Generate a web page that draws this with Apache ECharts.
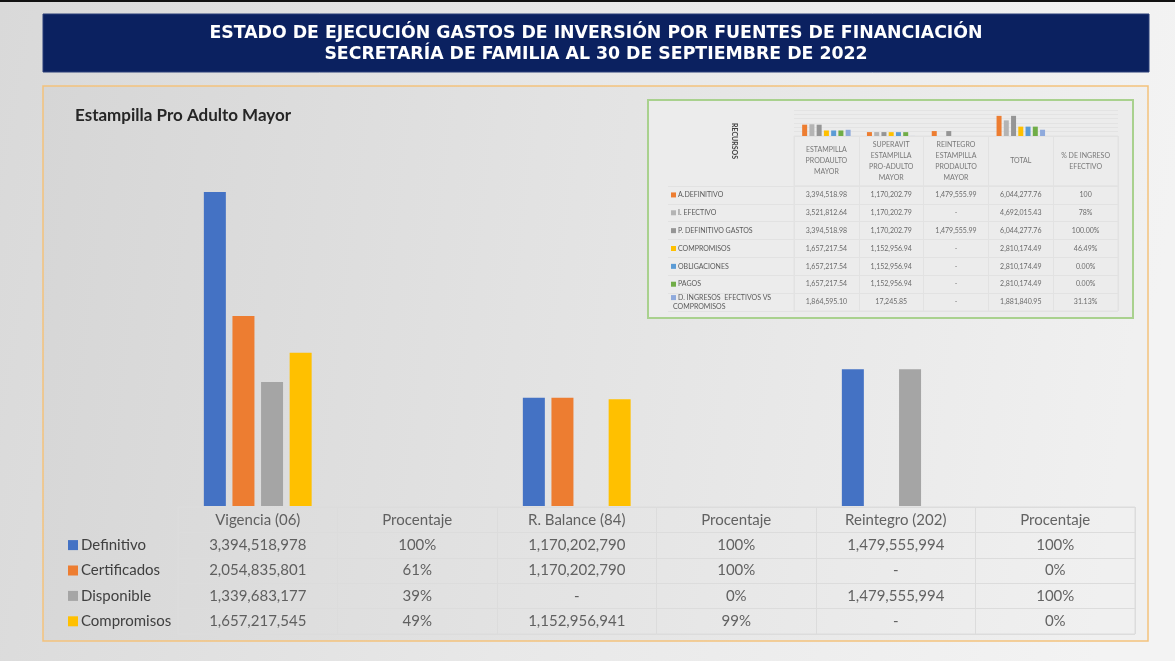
<!DOCTYPE html>
<html>
<head>
<meta charset="utf-8">
<script src="https://cdn.jsdelivr.net/npm/echarts@6/dist/echarts.min.js"></script>
<style>
html,body{margin:0;padding:0;background:#e6e6e6;}
#chart{width:1175px;height:661px;}
</style>
</head>
<body>
<div id="chart"></div>
<script>
// ---------- Main chart data ----------
const categories = ['Vigencia (06)', 'Procentaje', 'R. Balance (84)', 'Procentaje', 'Reintegro (202)', 'Procentaje'];
const seriesNames = ['Definitivo', 'Certificados', 'Disponible', 'Compromisos'];
const definitivo  = [3394518978, 1.00, 1170202790, 1.00, 1479555994, 1.00];
const certificados = [2054835801, 0.61, 1170202790, 1.00, null, 0];
const disponible  = [1339683177, 0.39, null, 0, 1479555994, 1.00];
const compromisos = [1657217545, 0.49, 1152956941, 0.99, null, 0];
const mainColors = ['#4472c4', '#ed7d31', '#a5a5a5', '#ffc000'];

// ---------- Inset table data ----------
const insetCols = ['ESTAMPILLA\nPRODAULTO\nMAYOR', 'SUPERAVIT\nESTAMPILLA\nPRO-ADULTO\nMAYOR', 'REINTEGRO\nESTAMPILLA\nPRODAULTO\nMAYOR', 'TOTAL', '% DE INGRESO\nEFECTIVO'];
const insetRows = ['A.DEFINITIVO', 'I. EFECTIVO', 'P. DEFINITIVO GASTOS', 'COMPROMISOS', 'OBLIGACIONES', 'PAGOS', 'D. INGRESOS  EFECTIVOS VS\nCOMPROMISOS'];
const insetEstampilla = [3394518.98, 3521812.64, 3394518.98, 1657217.54, 1657217.54, 1657217.54, 1864595.10];
const insetSuperavit  = [1170202.79, 1170202.79, 1170202.79, 1152956.94, 1152956.94, 1152956.94, 17245.85];
const insetReintegro  = [1479555.99, null, 1479555.99, null, null, null, null];
const insetTotal      = [6044277.76, 4692015.43, 6044277.76, 2810174.49, 2810174.49, 2810174.49, 1881840.95];
const insetPct        = ['100', '78%', '100.00%', '46.49%', '0.00%', '0.00%', '31.13%'];
const insetColors = ['#ed7d31', '#b4b4b4', '#959595', '#ffc000', '#5b9bd5', '#70ad47', '#8faadc'];

const titleLines = ['ESTADO DE EJECUCIÓN GASTOS DE INVERSIÓN POR FUENTES DE FINANCIACIÓN', 'SECRETARÍA DE FAMILIA AL 30 DE SEPTIEMBRE DE 2022'];
const chartTitle = 'Estampilla Pro Adulto Mayor';

const FONT = 'Lato, "Open Sans", sans-serif';
const mainSeries = [definitivo, certificados, disponible, compromisos];

function fmtMain(v, col) {
  if (col % 2 === 1) return Math.round(v * 100) + '%';
  if (v === null || v === 0) return '-';
  return v.toLocaleString('en-US');
}
function fmtInset(v) {
  if (v === null) return '-';
  return v.toLocaleString('en-US', {minimumFractionDigits: 2, maximumFractionDigits: 2});
}

// Main table cells
const mainCells = [];
categories.forEach((c, ci) => mainCells.push([ci, 0, c]));
mainSeries.forEach((arr, si) => arr.forEach((v, ci) => mainCells.push([ci, si + 1, fmtMain(v, ci)])));

// Inset cells
const insetHeadCells = insetCols.map((c, ci) => [ci, 0, c]);
const insetBodyCells = [];
insetRows.forEach((r, ri) => {
  insetBodyCells.push([0, ri, fmtInset(insetEstampilla[ri])]);
  insetBodyCells.push([1, ri, fmtInset(insetSuperavit[ri])]);
  insetBodyCells.push([2, ri, fmtInset(insetReintegro[ri])]);
  insetBodyCells.push([3, ri, fmtInset(insetTotal[ri])]);
  insetBodyCells.push([4, ri, insetPct[ri]]);
});

const mainRich = {};
mainColors.forEach((c, i) => { mainRich['s' + i] = {width: 10, height: 10, backgroundColor: c}; });
mainRich.t = {fontSize: 15, fontFamily: FONT, color: '#404040', padding: [0, 0, 0, 3]};

const insetRich = {};
insetColors.forEach((c, i) => { insetRich['s' + i] = {width: 5, height: 5, backgroundColor: c}; });
insetRich.t = {fontSize: 7, fontFamily: FONT, color: '#5a5a5a', padding: [0, 0, 0, 2], lineHeight: 9};

const lineCol = '#dcdcdc';
const bannerFont = 'bold 18px "DejaVu Sans Condensed", sans-serif';

const option = {
  animation: false,
  backgroundColor: {type: 'linear', x: 0, y: 0, x2: 1, y2: 0.3, colorStops: [
    {offset: 0, color: '#d9d9d9'}, {offset: 0.5, color: '#e8e8e8'}, {offset: 1, color: '#f3f3f3'}]},
  graphic: [
    {type: 'rect', z: -10, shape: {x: 0, y: 0, width: 1175, height: 2}, style: {fill: '#111'}},
    {type: 'rect', z: -10, shape: {x: 43, y: 14, width: 1106, height: 58}, style: {fill: '#0b2160', stroke: '#2b3f78', lineWidth: 1}},
    {type: 'text', z: -9, x: 596, y: 33, scaleX: 1.07, style: {text: titleLines[0], fill: '#ffffff', font: bannerFont, textAlign: 'center', textVerticalAlign: 'middle'}},
    {type: 'text', z: -9, x: 596, y: 54, scaleX: 1.07, style: {text: titleLines[1], fill: '#ffffff', font: bannerFont, textAlign: 'center', textVerticalAlign: 'middle'}},
    {type: 'rect', z: -10, shape: {x: 43, y: 86, width: 1105, height: 555},
      style: {fill: {type: 'linear', x: 0, y: 0, x2: 1, y2: 0.25, colorStops: [
        {offset: 0, color: '#d6d6d6'}, {offset: 0.45, color: '#e2e2e2'}, {offset: 1, color: '#f0f0f0'}]},
        stroke: '#f3c27c', lineWidth: 1.5}},
    {type: 'text', z: -9, x: 75, y: 116, style: {text: chartTitle, fill: '#262626', font: 'bold 17px Lato, sans-serif', textVerticalAlign: 'middle'}},
    {type: 'rect', z: -9, shape: {x: 648, y: 100, width: 485, height: 218}, style: {fill: '#ececec', stroke: '#a9d18e', lineWidth: 2}},
    {type: 'text', z: -8, x: 734, y: 141, rotation: -Math.PI / 2, style: {text: 'RECURSOS', fill: '#404040', font: 'bold 7px Lato, sans-serif', textAlign: 'center', textVerticalAlign: 'middle'}}
  ],
  grid: [
    {left: 178, right: 40, top: 136, bottom: 155},                       // 0 main bars
    {left: 178, right: 40, top: 507, bottom: 27, show: true, borderColor: lineCol, borderWidth: 1}, // 1 main table
    {left: 794, right: 57, top: 110, bottom: 525},                       // 2 mini bars
    {left: 794, right: 57, top: 136, bottom: 475, show: true, borderColor: '#e2e2e2', borderWidth: 1}, // 3 inset header
    {left: 794, right: 57, top: 186, bottom: 350, show: true, borderColor: '#e2e2e2', borderWidth: 1}  // 4 inset body
  ],
  xAxis: [
    {gridIndex: 0, type: 'category', data: categories, axisLine: {show: false}, axisTick: {show: false}, axisLabel: {show: false}},
    {gridIndex: 1, type: 'category', data: categories, axisLine: {show: false}, axisTick: {show: false}, axisLabel: {show: false},
      splitLine: {show: true, interval: 0, lineStyle: {color: lineCol}}},
    {gridIndex: 2, type: 'category', data: insetCols, axisLine: {show: false}, axisTick: {show: false}, axisLabel: {show: false}},
    {gridIndex: 3, type: 'category', data: insetCols, axisLine: {show: false}, axisTick: {show: false}, axisLabel: {show: false},
      splitLine: {show: true, interval: 0, lineStyle: {color: '#e2e2e2'}}},
    {gridIndex: 4, type: 'category', data: insetCols, axisLine: {show: false}, axisTick: {show: false}, axisLabel: {show: false},
      splitLine: {show: true, interval: 0, lineStyle: {color: '#e2e2e2'}}}
  ],
  yAxis: [
    {gridIndex: 0, type: 'value', min: 0, max: 4000000000, show: false},
    {gridIndex: 1, type: 'category', inverse: true, data: ['', ...seriesNames],
      axisLine: {show: false}, axisTick: {show: false},
      splitLine: {show: true, interval: 0, lineStyle: {color: lineCol}},
      axisLabel: {align: 'left', margin: 110, rich: mainRich,
        formatter: (v, i) => i === 0 ? '' : `{s${i - 1}|}{t|${v}}`}},
    {gridIndex: 2, type: 'value', min: 0, max: 7800000, interval: 1300000, axisLabel: {show: false},
      axisLine: {show: false}, axisTick: {show: false}, splitLine: {show: true, lineStyle: {color: '#e0e0e0', width: 0.7}}},
    {gridIndex: 3, type: 'category', data: ['h'], show: false},
    {gridIndex: 4, type: 'category', inverse: true, data: insetRows,
      axisLine: {show: false},
      axisTick: {show: true, length: 126, interval: 0, lineStyle: {color: '#e2e2e2'}},
      splitLine: {show: true, interval: 0, lineStyle: {color: '#e2e2e2'}},
      axisLabel: {align: 'left', margin: 123, interval: 0, rich: insetRich,
        formatter: (v, i) => `{s${i}|}{t|${v}}`}}
  ],
  series: [
    ...seriesNames.map((n, si) => ({
      name: n, type: 'bar', xAxisIndex: 0, yAxisIndex: 0, data: mainSeries[si],
      barWidth: 22, barGap: '30%', itemStyle: {color: mainColors[si]}
    })),
    {type: 'scatter', xAxisIndex: 1, yAxisIndex: 1, data: mainCells, symbol: 'rect', symbolSize: 1,
      itemStyle: {color: 'rgba(0,0,0,0)'},
      label: {show: true, position: 'inside', formatter: p => p.value[2], color: '#404040', fontSize: 15, fontFamily: FONT}},
    ...insetRows.map((r, ri) => ({
      name: r, type: 'bar', xAxisIndex: 2, yAxisIndex: 2,
      data: [insetEstampilla[ri], insetSuperavit[ri], insetReintegro[ri], insetTotal[ri], null],
      barWidth: 5, barGap: '45%', itemStyle: {color: insetColors[ri]}
    })),
    {type: 'scatter', xAxisIndex: 3, yAxisIndex: 3, data: insetHeadCells, symbol: 'rect', symbolSize: 1,
      itemStyle: {color: 'rgba(0,0,0,0)'},
      label: {show: true, position: 'inside', formatter: p => p.value[2], color: '#5a5a5a', fontSize: 7, lineHeight: 11, fontFamily: FONT, align: 'center'}},
    {type: 'scatter', xAxisIndex: 4, yAxisIndex: 4, data: insetBodyCells, symbol: 'rect', symbolSize: 1,
      itemStyle: {color: 'rgba(0,0,0,0)'},
      label: {show: true, position: 'inside', formatter: p => p.value[2], color: '#4a4a4a', fontSize: 7, fontFamily: FONT}}
  ]
};

const chart = echarts.init(document.getElementById('chart'), null, {renderer: 'canvas'});
chart.setOption(option);
</script>
</body>
</html>
